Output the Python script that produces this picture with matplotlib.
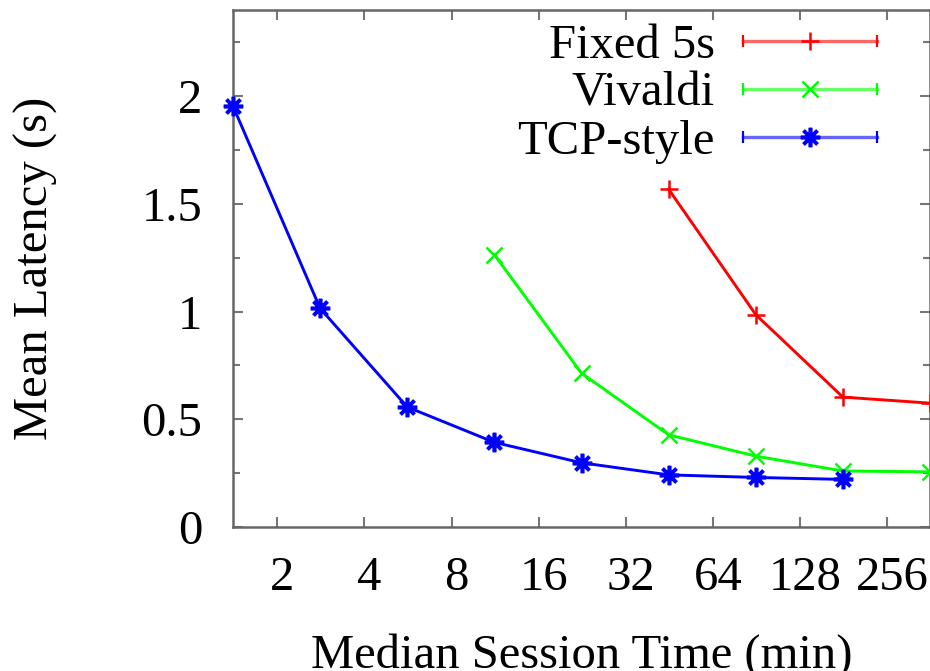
import matplotlib
matplotlib.use("Agg")
import matplotlib.pyplot as plt
import matplotlib.transforms as mtransforms
from matplotlib.lines import Line2D
from matplotlib.legend_handler import HandlerBase
from matplotlib.ticker import FixedLocator, NullFormatter

plt.rcParams['font.family'] = ['Liberation Serif', 'DejaVu Serif']
plt.rcParams['font.size'] = 35

# median session time (min)
session_time = [1.40625, 2.8125, 5.625, 11.25, 22.5, 45, 90, 180, 360]

# mean latency (s)
fixed_x = [45, 90, 180, 360]
fixed_y = [1.568, 0.986, 0.603, 0.575]
vivaldi_x = [11.25, 22.5, 45, 90, 180, 360]
vivaldi_y = [1.264, 0.714, 0.428, 0.329, 0.260, 0.256]
tcp_x = [1.40625, 2.8125, 5.625, 11.25, 22.5, 45, 90, 180]
tcp_y = [1.954, 1.015, 0.557, 0.393, 0.298, 0.242, 0.230, 0.221]

xticks = [2, 4, 8, 16, 32, 64, 128, 256]
yticks = [0, 0.5, 1, 1.5, 2]
yminor = [0.25, 0.75, 1.25, 1.75, 2.25]

W, H = 930, 671
fig = plt.figure(figsize=(W / 100, H / 100), dpi=100)
ax = fig.add_axes([233 / W, 1 - 527 / H, (930 - 233) / W, (527 - 10) / H])

series = [
    ("Fixed 5s", fixed_x, fixed_y, "#ff0000", "+", 13, 1.8),
    ("Vivaldi", vivaldi_x, vivaldi_y, "#00ff00", "x", 12, 1.8),
    ("TCP-style", tcp_x, tcp_y, "#0000ff", (8, 2, 0), 14, 2.6),
]
handles = []
for name, xs, ys, col, mk, ms, mew in series:
    h, = ax.plot(xs, ys, color=col, lw=2.1, marker=mk, ms=ms, mew=mew,
                 label=name, clip_on=False, zorder=3)
    handles.append(h)

ax.set_xscale("log", base=2)
ax.set_xlim(session_time[0], session_time[-1])
ax.set_ylim(0, 2.4)
ax.xaxis.set_major_locator(FixedLocator(xticks))
ax.set_xticklabels([str(t) for t in xticks])
ax.xaxis.set_minor_locator(FixedLocator([]))
ax.xaxis.set_minor_formatter(NullFormatter())
ax.set_yticks(yticks)
ax.set_yticklabels(["0", "0.5", "1", "1.5", "2"])
ax.yaxis.set_minor_locator(FixedLocator(yminor))

for s in ax.spines.values():
    s.set_color("#666666")
    s.set_linewidth(1.8)
ax.tick_params(which="both", direction="in", top=True, right=True,
               color="#777777", width=1.5)
ax.tick_params(which="major", length=7)
ax.tick_params(which="minor", length=5)
ax.tick_params(axis="x", pad=21)
ax.tick_params(axis="y", pad=22)

# gnuplot puts the x labels a little right of the ticks
off = mtransforms.ScaledTranslation(5 / 100, 0, fig.dpi_scale_trans)
for lab in ax.get_xticklabels():
    lab.set_transform(lab.get_transform() + off)

# the reference crop cuts the bottom of the x label slightly
ax.set_xlabel("Median Session Time (min)", labelpad=24)
ax.set_ylabel("Mean Latency (s)", labelpad=60)


class ErrLineHandler(HandlerBase):
    def create_artists(self, legend, orig_handle, xdescent, ydescent,
                       width, height, fontsize, trans):
        y = height / 2 - ydescent
        x0, x1 = -xdescent, width - xdescent
        c = orig_handle.get_color()
        line = Line2D([x0, x1], [y, y], color=c, lw=2.4, alpha=0.6)
        caps = Line2D([x0, x1], [y, y], ls="none", marker="|", ms=9,
                      mew=1.6, color=c)
        mid = Line2D([(x0 + x1) / 2], [y], ls="none",
                     marker=orig_handle.get_marker(),
                     ms=orig_handle.get_markersize(),
                     mew=orig_handle.get_markeredgewidth(), color=c)
        for a in (line, caps, mid):
            a.set_transform(trans)
        return [line, caps, mid]


ax.legend(handles=handles, handler_map={Line2D: ErrLineHandler()},
          markerfirst=False, frameon=False, loc="upper right",
          bbox_to_anchor=(877 / W, 1 - 24 / H), bbox_transform=fig.transFigure,
          borderpad=0, borderaxespad=0, handlelength=2.76,
          handletextpad=0.58, labelspacing=0.08)

fig.savefig("out.png", dpi=100)
